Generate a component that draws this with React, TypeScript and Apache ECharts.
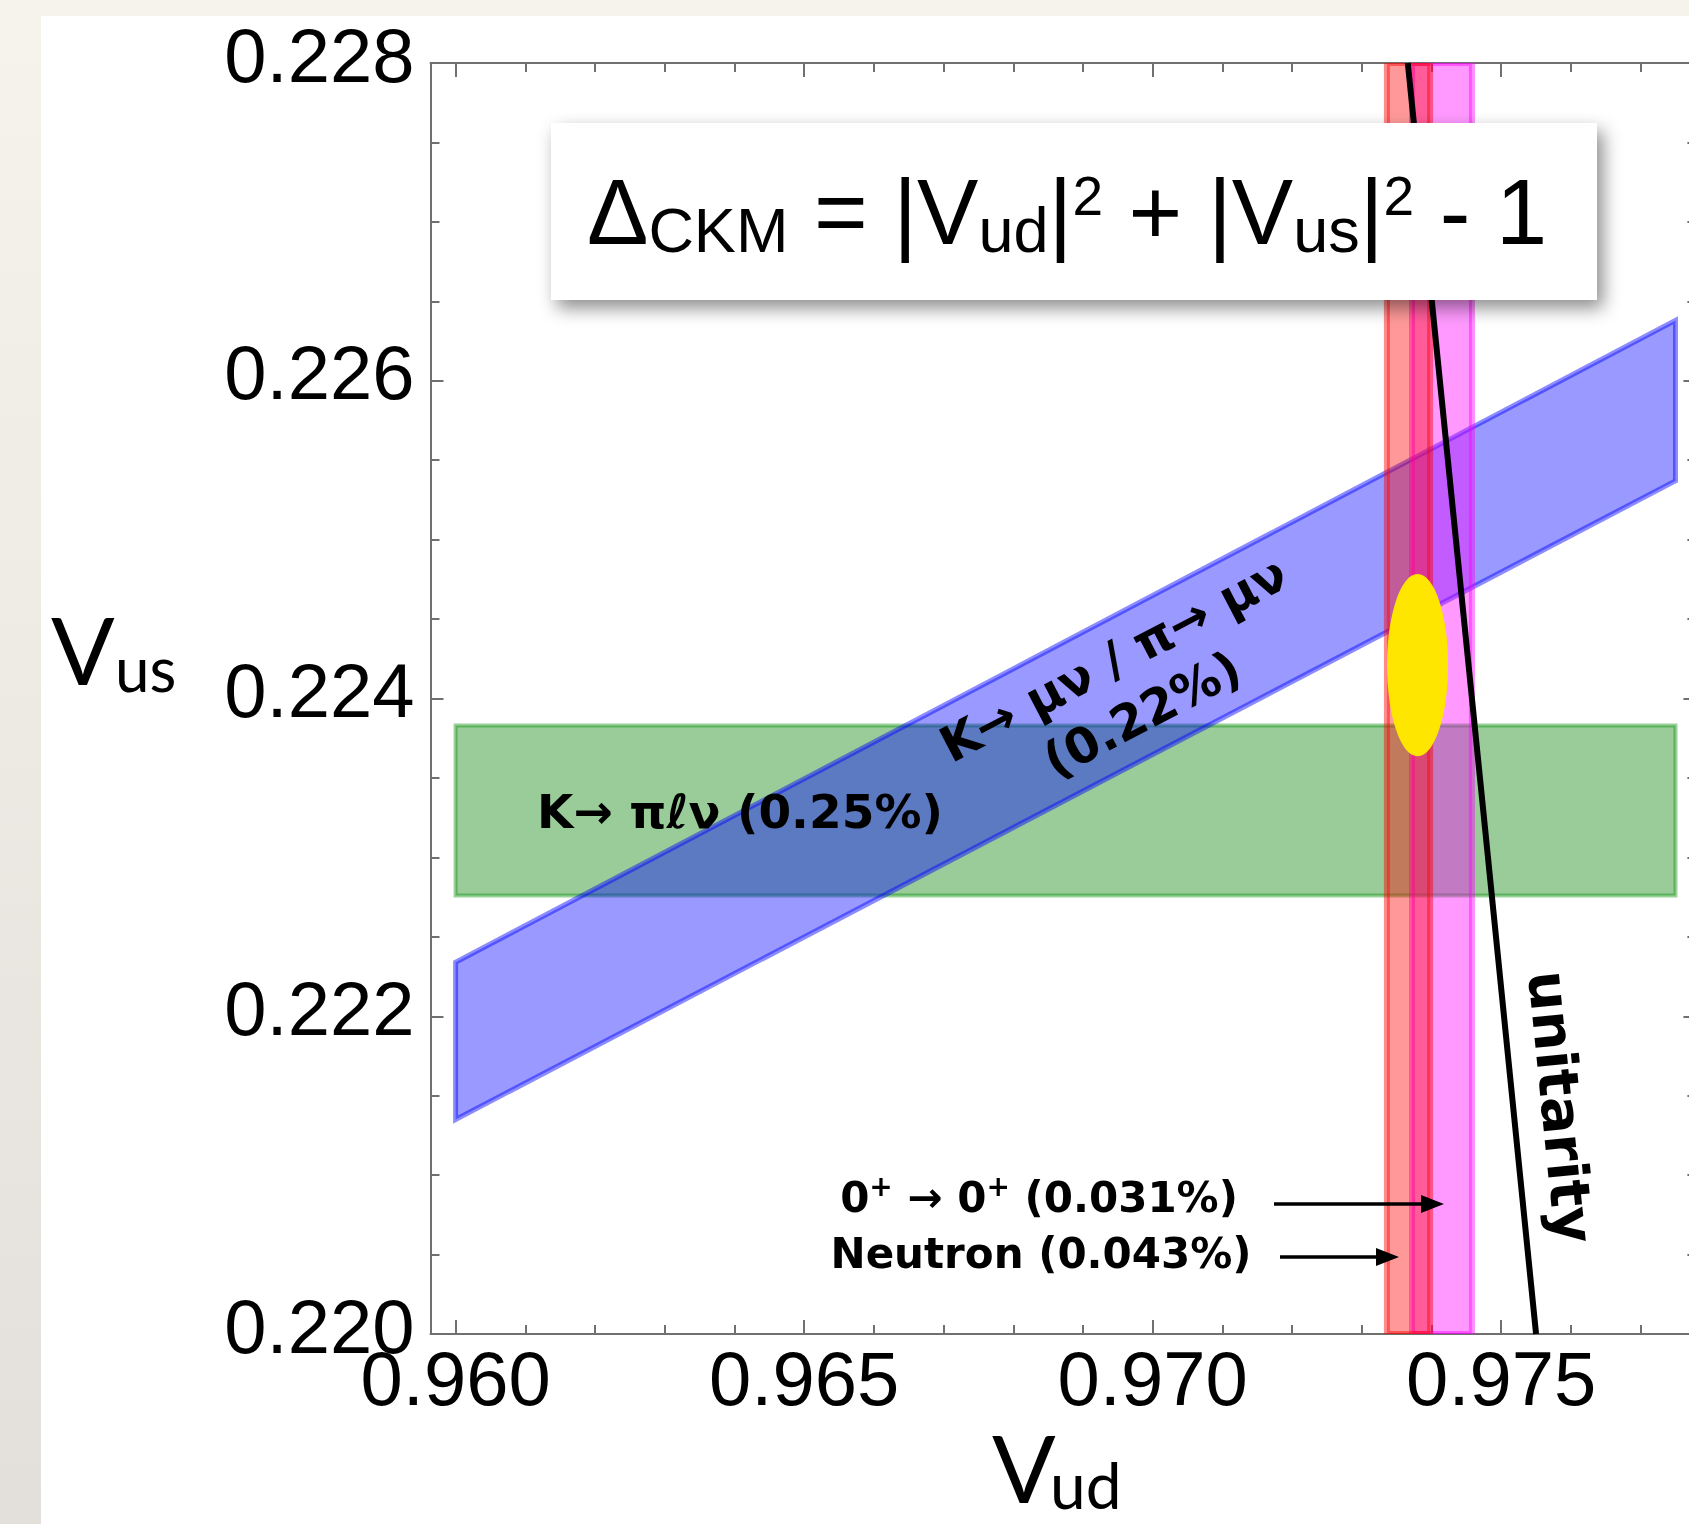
import React, { useEffect, useRef } from 'react';
import * as echarts from 'echarts';

// ---- axis ranges ----
const X_MIN = 0.95964;
const X_MAX = 0.9778;
const Y_MIN = 0.22;
const Y_MAX = 0.228;

// ---- tick values ----
const X_MAJOR_TICKS = [0.96, 0.965, 0.97, 0.975];
const X_MINOR_TICKS = [0.96, 0.961, 0.962, 0.963, 0.964, 0.965, 0.966, 0.967, 0.968, 0.969, 0.97, 0.971, 0.972, 0.973, 0.974, 0.975, 0.976, 0.977];
const Y_MAJOR_TICKS = [0.22, 0.222, 0.224, 0.226, 0.228];
const Y_MINOR_TICKS = [0.22, 0.2205, 0.221, 0.2215, 0.222, 0.2225, 0.223, 0.2235, 0.224, 0.2245, 0.225, 0.2255, 0.226, 0.2265, 0.227, 0.2275, 0.228];

// ---- bands (Vud, Vus vertices) ----
const KL3_BAND = [[0.96, 0.22276], [0.9775, 0.22276], [0.9775, 0.22383], [0.96, 0.22383]];
const KMU2_BAND = [[0.96, 0.22135], [0.9775, 0.22537], [0.9775, 0.22638], [0.96, 0.22234]];
const SUPERALLOWED_BAND = [[0.97372, 0.22], [0.97458, 0.22], [0.97458, 0.228], [0.97372, 0.228]];
const NEUTRON_BAND = [[0.97336, 0.22], [0.97398, 0.22], [0.97398, 0.228], [0.97336, 0.228]];

// ---- combined fit ellipse ----
const FIT_CENTER = [0.9738, 0.22421];
const FIT_SEMI_AXES = [0.000438, 0.000573];

// ---- unitarity curve ----
const UNITARITY_VUD = [0.97366, 0.97458, 0.9755];
const UNITARITY_VUS = [0.228, 0.224, 0.22];

const AXIS_GRAY = '#707070';
const BOLD = 'DejaVu Sans';

function bandSeries(name: string, pts: number[][], fill: string, stroke: string, lineWidth: number, z: number) {
  return {
    type: 'custom',
    name,
    coordinateSystem: 'cartesian2d',
    xAxisIndex: 0,
    yAxisIndex: 0,
    clip: true,
    silent: true,
    z,
    data: pts,
    renderItem: (params: any, api: any) =>
      params.dataIndex === 0
        ? {
            type: 'polygon',
            shape: { points: pts.map((p) => api.coord(p)) },
            style: { fill, stroke, lineWidth },
          }
        : null,
  };
}

export default function App() {
  const ref = useRef<HTMLDivElement>(null);

  useEffect(() => {
    const chart = echarts.init(ref.current!, null, { renderer: 'svg' });
    const tickStyle = { color: AXIS_GRAY, width: 2 };
    const lineStyle = { color: AXIS_GRAY, width: 2 };

    const xBase = {
      type: 'value',
      min: X_MIN,
      max: X_MAX,
      splitLine: { show: false },
      axisLabel: { show: false },
      axisLine: { show: false, onZero: false },
    };
    const yBase = {
      type: 'value',
      min: Y_MIN,
      max: Y_MAX,
      splitLine: { show: false },
      axisLabel: { show: false },
      axisLine: { show: false, onZero: false },
    };

    const option: any = {
      animation: false,
      grid: { left: 430.5, right: 3.6, top: 63, bottom: 190, outerBoundsMode: 'none', containLabel: false },
      xAxis: [
        {
          ...xBase,
          position: 'bottom',
          axisLine: { show: true, onZero: false, lineStyle },
          axisTick: { show: true, inside: true, length: 14, customValues: X_MAJOR_TICKS, lineStyle: tickStyle },
          axisLabel: {
            show: true,
            customValues: X_MAJOR_TICKS,
            formatter: (v: number) => v.toFixed(3),
            fontSize: 76,
            lineHeight: 76,
            fontFamily: 'Liberation Sans',
            color: '#000',
            margin: 6,
          },
        },
        { ...xBase, position: 'bottom', axisTick: { show: true, inside: true, length: 9, customValues: X_MINOR_TICKS, lineStyle: tickStyle } },
        {
          ...xBase,
          position: 'top',
          axisLine: { show: true, onZero: false, lineStyle },
          axisTick: { show: true, inside: true, length: 14, customValues: X_MAJOR_TICKS, lineStyle: tickStyle },
        },
        { ...xBase, position: 'top', axisTick: { show: true, inside: true, length: 9, customValues: X_MINOR_TICKS, lineStyle: tickStyle } },
      ],
      yAxis: [
        {
          ...yBase,
          position: 'left',
          axisLine: { show: true, onZero: false, lineStyle },
          axisTick: { show: true, inside: true, length: 13, customValues: Y_MAJOR_TICKS, lineStyle: tickStyle },
          axisLabel: {
            show: true,
            customValues: Y_MAJOR_TICKS,
            formatter: (v: number) => '{t|' + v.toFixed(3) + '}',
            margin: 16,
            rich: {
              t: { fontSize: 76, fontFamily: 'Liberation Sans', color: '#000', padding: [0, 0, 16, 0] },
            },
          },
        },
        { ...yBase, position: 'left', axisTick: { show: true, inside: true, length: 9, customValues: Y_MINOR_TICKS, lineStyle: tickStyle } },
        {
          ...yBase,
          position: 'right',
          axisLine: { show: true, onZero: false, lineStyle },
          axisTick: { show: true, inside: true, length: 13, customValues: Y_MAJOR_TICKS, lineStyle: tickStyle },
        },
        { ...yBase, position: 'right', axisTick: { show: true, inside: true, length: 9, customValues: Y_MINOR_TICKS, lineStyle: tickStyle } },
      ],
      series: [
        bandSeries('K→πℓν', KL3_BAND, 'rgba(0,128,0,0.4)', 'rgba(0,140,0,0.4)', 4, 2),
        bandSeries('K→μν / π→μν', KMU2_BAND, 'rgba(0,0,255,0.4)', 'rgba(0,0,255,0.45)', 5, 3),
        bandSeries('0+ → 0+', SUPERALLOWED_BAND, 'rgba(255,0,255,0.4)', 'rgba(255,0,255,0.45)', 6, 4),
        bandSeries('Neutron', NEUTRON_BAND, 'rgba(255,0,0,0.4)', 'rgba(255,0,0,0.45)', 6, 5),
        {
          type: 'custom',
          name: 'fit',
          coordinateSystem: 'cartesian2d',
          silent: true,
          z: 6,
          data: [FIT_CENTER],
          renderItem: (params: any, api: any) => {
            const c = api.coord([api.value(0), api.value(1)]);
            const s = api.size(FIT_SEMI_AXES);
            return {
              type: 'ellipse',
              shape: { cx: c[0], cy: c[1], rx: s[0], ry: s[1] },
              style: { fill: '#ffe600' },
            };
          },
        },
        {
          type: 'line',
          name: 'unitarity',
          data: UNITARITY_VUD.map((x, i) => [x, UNITARITY_VUS[i]]),
          showSymbol: false,
          symbol: 'none',
          silent: true,
          z: 7,
          lineStyle: { color: '#000', width: 6 },
        },
      ],
      graphic: [
        {
          type: 'rect',
          silent: true,
          z: -20,
          shape: { x: 0, y: 0, width: 1700, height: 1524 },
          style: {
            fill: new echarts.graphic.LinearGradient(0, 0, 0, 1, [
              { offset: 0, color: '#f6f3ec' },
              { offset: 1, color: '#e3e0db' },
            ]),
          },
        },
        { type: 'rect', silent: true, z: -10, shape: { x: 41, y: 16, width: 1700, height: 1600 }, style: { fill: '#ffffff' } },
        // title box
        {
          type: 'rect',
          silent: true,
          z: 100,
          shape: { x: 551, y: 123, width: 1046, height: 177 },
          style: { fill: '#ffffff', shadowBlur: 18, shadowOffsetX: 6, shadowOffsetY: 8, shadowColor: 'rgba(0,0,0,0.45)' },
        },
        {
          type: 'text',
          silent: true,
          z: 101,
          x: 1067,
          y: 212,
          style: {
            text: '{m|Δ}{s|CKM}{m| = |V}{s|ud}{m||}{p|2}{m| + |V}{s|us}{m||}{p|2}{m| - 1}',
            align: 'center',
            verticalAlign: 'middle',
            rich: {
              m: { fontSize: 92, fontFamily: 'Liberation Sans', fill: '#000' },
              s: { fontSize: 63, fontFamily: 'Liberation Sans', fill: '#000', padding: [36, 0, 0, 0] },
              p: { fontSize: 55, fontFamily: 'Liberation Sans', fill: '#000', padding: [0, 0, 32, 0] },
            },
          },
        },
        // axis titles
        { type: 'text', silent: true, x: 51, y: 648.6, style: { text: 'V', fontSize: 94, fontFamily: 'Lato', fill: '#000', align: 'left', verticalAlign: 'middle' } },
        { type: 'text', silent: true, x: 115, y: 668, style: { text: 'us', fontSize: 62, fontFamily: 'Lato', fill: '#000', align: 'left', verticalAlign: 'middle' } },
        { type: 'text', silent: true, x: 992, y: 1466.6, style: { text: 'V', fontSize: 94, fontFamily: 'Lato', fill: '#000', align: 'left', verticalAlign: 'middle' } },
        { type: 'text', silent: true, x: 1050, y: 1484.2, style: { text: 'ud', fontSize: 64, fontFamily: 'Lato', fill: '#000', align: 'left', verticalAlign: 'middle' } },
        // band labels
        {
          type: 'text',
          silent: true,
          z: 50,
          x: 740,
          y: 811.7,
          style: { text: 'K→ πℓν (0.25%)', fontSize: 47, fontFamily: BOLD, fontWeight: 'bold', fill: '#000', align: 'center', verticalAlign: 'middle' },
        },
        {
          type: 'text',
          silent: true,
          z: 50,
          x: 1128,
          y: 687,
          rotation: 0.4837,
          style: {
            text: 'K→ μν / π→ μν\n(0.22%)',
            fontSize: 49,
            lineHeight: 62,
            fontFamily: BOLD,
            fontWeight: 'bold',
            fill: '#000',
            align: 'center',
            verticalAlign: 'middle',
          },
        },
        {
          type: 'text',
          silent: true,
          z: 50,
          x: 1561,
          y: 1107,
          rotation: -1.4705,
          style: { text: 'unitarity', fontSize: 56, fontFamily: BOLD, fontWeight: 'bold', fill: '#000', align: 'center', verticalAlign: 'middle' },
        },
        {
          type: 'text',
          silent: true,
          z: 50,
          x: 1039,
          y: 1197.5,
          style: {
            text: '{b|0}{sp|+}{b| → 0}{sp|+}{b| (0.031%)}',
            align: 'center',
            verticalAlign: 'middle',
            rich: {
              b: { fontSize: 42, fontFamily: BOLD, fontWeight: 'bold', fill: '#000' },
              sp: { fontSize: 28, fontFamily: BOLD, fontWeight: 'bold', fill: '#000', padding: [0, 0, 22, 0] },
            },
          },
        },
        {
          type: 'text',
          silent: true,
          z: 50,
          x: 1041,
          y: 1253.5,
          style: { text: 'Neutron (0.043%)', fontSize: 42, fontFamily: BOLD, fontWeight: 'bold', fill: '#000', align: 'center', verticalAlign: 'middle' },
        },
        // arrows
        { type: 'line', silent: true, z: 50, shape: { x1: 1274, y1: 1204, x2: 1425, y2: 1204 }, style: { stroke: '#000', lineWidth: 3.5 } },
        { type: 'polygon', silent: true, z: 50, shape: { points: [[1444, 1204], [1421, 1195], [1421, 1213]] }, style: { fill: '#000' } },
        { type: 'line', silent: true, z: 50, shape: { x1: 1280, y1: 1257, x2: 1380, y2: 1257 }, style: { stroke: '#000', lineWidth: 3.5 } },
        { type: 'polygon', silent: true, z: 50, shape: { points: [[1399, 1257], [1376, 1248], [1376, 1266]] }, style: { fill: '#000' } },
      ],
    };

    chart.setOption(option);
    return () => chart.dispose();
  }, []);

  return (
    <div style={{ position: 'fixed', left: 0, top: 0, width: 1689, height: 1524, overflow: 'hidden' }}>
      <div ref={ref} style={{ width: 1700, height: 1524 }} />
    </div>
  );
}
